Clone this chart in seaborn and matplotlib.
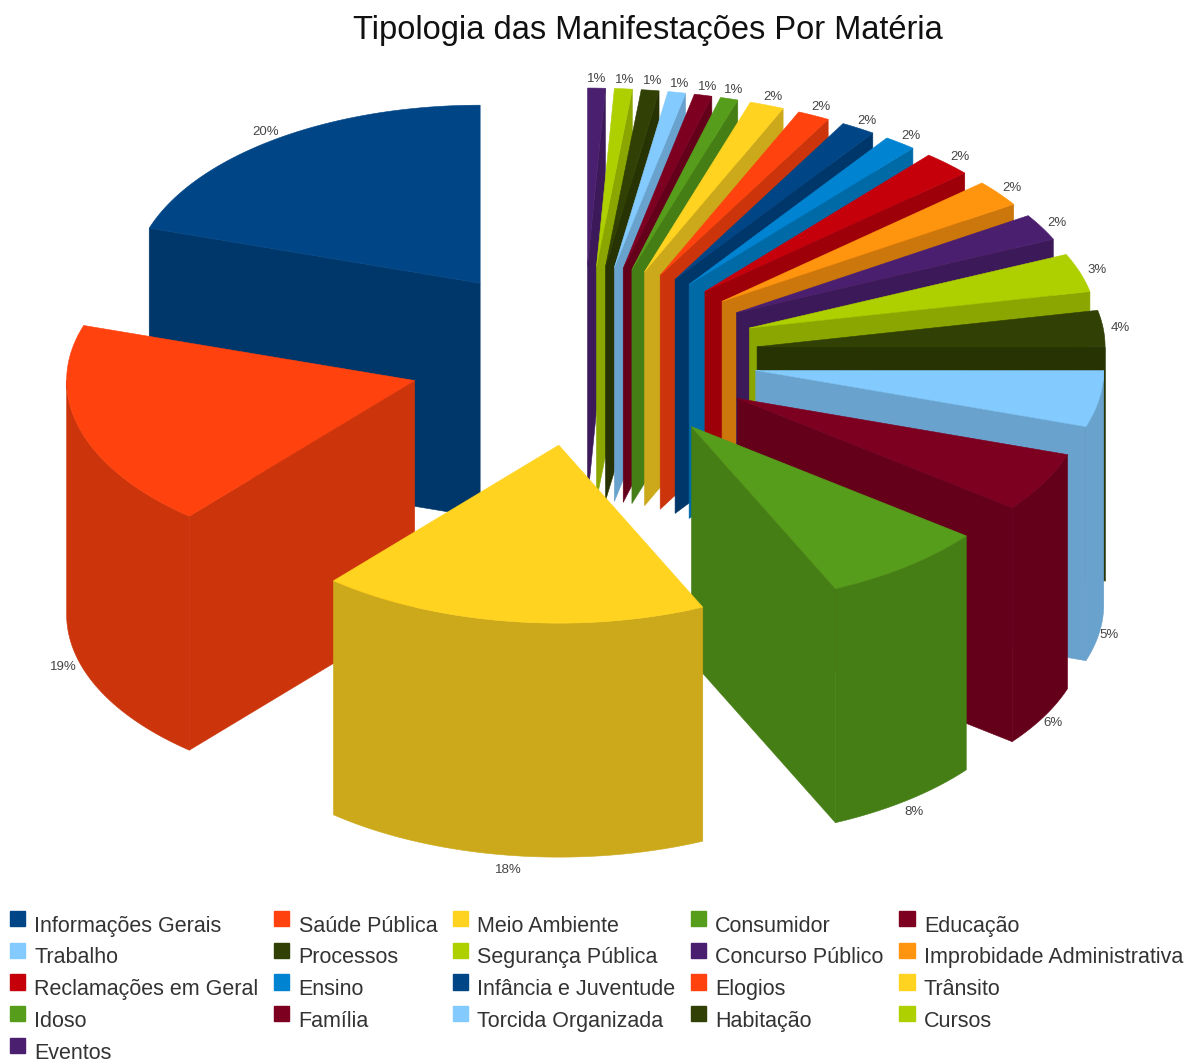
import numpy as np
import pandas as pd
import seaborn as sns
from matplotlib import pyplot as plt
from matplotlib.legend_handler import HandlerPatch
from matplotlib.patches import Patch, Rectangle

categories = ['Informações Gerais', 'Saúde Pública', 'Meio Ambiente', 'Consumidor', 'Educação',
              'Trabalho', 'Processos', 'Segurança Pública', 'Concurso Público', 'Improbidade Administrativa',
              'Reclamações em Geral', 'Ensino', 'Infância e Juventude', 'Elogios', 'Trânsito',
              'Idoso', 'Família', 'Torcida Organizada', 'Habitação', 'Cursos', 'Eventos']
values = [20, 18.8, 18, 7.7, 5.4, 5.1, 3.3, 3.5, 2.4, 2.4, 2.3, 1.5, 1.6, 1.5, 1.6,
          0.82, 0.82, 0.82, 0.82, 0.82, 0.82]
pct_labels = ['20%', '19%', '18%', '8%', '6%', '5%', '4%', '3%', '2%', '2%', '2%', '2%', '2%', '2%', '2%',
              '1%', '1%', '1%', '1%', '1%', '1%']
base_colors = ['#004586', '#ff420e', '#ffd320', '#579d1c', '#7e0021', '#83caff', '#314004',
               '#aecf00', '#4b1f6f', '#ff950e', '#c5000b', '#0084d1']

sns.set_theme(style='white', font='Liberation Sans')
palette = sns.color_palette(base_colors, len(categories))  # cycles like the original
dark = [tuple(c * 0.8 for c in col) for col in palette]

df = pd.DataFrame({'cat': categories, 'val': values, 'label': pct_labels})
df['color'] = palette
df['wall'] = dark
df['end'] = df['val'].cumsum() / df['val'].sum() * 360
df['start'] = df['end'] - df['val'] / df['val'].sum() * 360
df['mid'] = (df['start'] + df['end']) / 2

# pie geometry in pixels of the picture
cx, cy = 583, 356
rx, ry = 348, 178
ex, ey = 175, 90
depth = 234


def arc(tx, ty, a0, a1):
    t = np.radians(np.linspace(a0, a1, 60))
    return tx - rx * np.sin(t), ty - ry * np.cos(t)


def raised_square(legend, orig_handle, xdescent, ydescent, width, height, fontsize):
    return Rectangle((0, 4), width, height)


fig = plt.figure(figsize=(11.89, 10.62), dpi=100)
ax = fig.add_axes([0, 0, 1, 1])
ax.set_xlim(0, 1189)
ax.set_ylim(1062, 0)
ax.axis('off')

# back to front
for _, s in df.sort_values('mid', key=lambda m: -np.cos(np.radians(m))).iterrows():
    m = np.radians(s['mid'])
    tx = cx - ex * np.sin(m)
    ty = cy - ey * np.cos(m)
    style = dict(color=s['wall'], lw=0.4)

    # radial side
    for a, show in ((s['end'], s['end'] < 180), (s['start'], s['start'] > 180)):
        if show:
            px, py = arc(tx, ty, a, a)
            ax.fill([tx, px[0], px[0], tx], [ty, py[0], py[0] + depth, ty + depth], **style)

    # outer side
    a0, a1 = max(s['start'], 90), min(s['end'], 270)
    if a0 < a1:
        px, py = arc(tx, ty, a0, a1)
        ax.fill(np.r_[px, px[::-1]], np.r_[py, py[::-1] + depth], **style)

    # top
    px, py = arc(tx, ty, s['start'], s['end'])
    ax.fill(np.r_[tx, px], np.r_[ty, py], color=s['color'], lw=0.4)

    # percentage
    lower = np.cos(m) < 0
    fx = 1.03 if lower and np.sin(m) < 0 else 1.05
    fy = 1.08 if lower else 1.05
    lx = tx - rx * fx * np.sin(m)
    ly = ty - ry * fy * np.cos(m) + (depth if lower else 0)
    ax.text(lx, ly, s['label'], fontsize=9.5, color='#444444', ha='center', va='center')

ax.text(648, 30, 'Tipologia das Manifestações Por Matéria', fontsize=23.5, color='#111111',
        ha='center', va='center')

# legend reads row by row, matplotlib fills column by column
n_cols = 5
order = [i for c in range(n_cols) for i in range(c, len(categories), n_cols)]
handles = [Patch(color=palette[i], label=categories[i]) for i in order]
ax.legend(handles=handles, ncol=n_cols, loc='upper left', bbox_to_anchor=(0, 906),
          bbox_transform=ax.transData, frameon=False, fontsize=15.5, labelcolor='#333333',
          handlelength=0.72, handleheight=0.72, handletextpad=0.42, columnspacing=0.72,
          labelspacing=0.5, borderpad=0.45, borderaxespad=0,
          handler_map={Patch: HandlerPatch(patch_func=raised_square)})

fig.savefig('out.png', dpi=100)
